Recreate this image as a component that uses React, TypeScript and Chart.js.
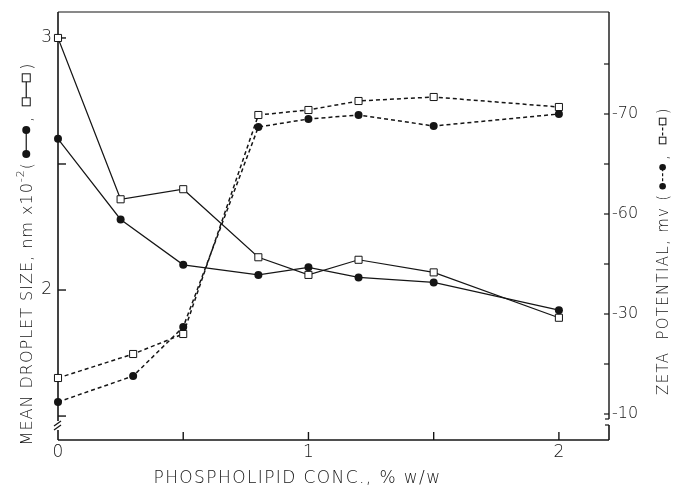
import React, { useEffect, useRef } from "react";
import { Chart, registerables } from "chart.js";

Chart.register(...registerables);

// ---- data ----
const concSize = [0, 0.25, 0.5, 0.8, 1.0, 1.2, 1.5, 2.0];
const sizeFilled = [2.6, 2.28, 2.1, 2.06, 2.09, 2.05, 2.03, 1.92];
const sizeOpen = [3.0, 2.36, 2.4, 2.13, 2.06, 2.12, 2.07, 1.89];

const concZeta = [0, 0.3, 0.5, 0.8, 1.0, 1.2, 1.5, 2.0];
const zetaFilled = [12.4, 17.6, 27.4, 67.4, 69.0, 69.8, 67.6, 70.0];
const zetaOpen = [17.2, 22.0, 26.0, 69.8, 70.8, 72.6, 73.4, 71.4];

const xTickValues = [0, 0.5, 1, 1.5, 2];
const xTickLabels = ["0", "", "1", "", "2"];
const leftTickValues = [1.5, 2, 2.5, 3];
const leftTickLabels = ["", "2", "", "3"];
const rightTickValues = [10, 20, 30, 40, 50, 60, 70, 80];
const rightTickLabels = ["-10", "", "-30", "", "-60", "", "-70", ""];

const xTitle = "PHOSPHOLIPID CONC., % w/w";
const leftTitle = "MEAN DROPLET SIZE, nm x10";
const leftTitleSup = "-2";
const rightTitle = "ZETA  POTENTIAL, mv";

const FONT = '"DejaVu Sans", sans-serif';
const INK = "#151515";

type Seg =
  | { kind: "text"; s: string }
  | { kind: "sup"; s: string }
  | { kind: "sym"; marker: "circle" | "square"; dashed: boolean };

function drawVerticalTitle(
  ctx: CanvasRenderingContext2D,
  x: number,
  y: number,
  size: number,
  ls: number,
  segs: Seg[],
  gap: number,
  r: number
) {
  ctx.save();
  ctx.translate(x, y);
  ctx.rotate(-Math.PI / 2);
  const main = `300 ${size}px ${FONT}`;
  const sup = `300 ${Math.round(size * 0.7)}px ${FONT}`;
  const widths = segs.map((seg) => {
    if (seg.kind === "sym") return 2 * r + gap + 8;
    ctx.font = seg.kind === "text" ? main : sup;
    (ctx as any).letterSpacing = `${ls}px`;
    return ctx.measureText(seg.s).width;
  });
  const total = widths.reduce((a, b) => a + b, 0);
  let cur = -total / 2;
  ctx.fillStyle = INK;
  ctx.strokeStyle = INK;
  ctx.textAlign = "left";
  ctx.textBaseline = "alphabetic";
  segs.forEach((seg, i) => {
    if (seg.kind === "text") {
      ctx.font = main;
      (ctx as any).letterSpacing = `${ls}px`;
      ctx.fillText(seg.s, cur, 0);
    } else if (seg.kind === "sup") {
      ctx.font = sup;
      (ctx as any).letterSpacing = `${ls}px`;
      ctx.fillText(seg.s, cur, -size * 0.5);
    } else {
      const my = -size * 0.36;
      const x1 = cur + 4 + r;
      const x2 = x1 + gap;
      ctx.lineWidth = 1.2;
      ctx.setLineDash(seg.dashed ? [3, 2] : []);
      ctx.beginPath();
      ctx.moveTo(x1, my);
      ctx.lineTo(x2, my);
      ctx.stroke();
      ctx.setLineDash([]);
      [x1, x2].forEach((px) => {
        if (seg.marker === "circle") {
          ctx.beginPath();
          ctx.arc(px, my, r, 0, Math.PI * 2);
          ctx.fill();
        } else {
          ctx.fillStyle = "#fff";
          ctx.fillRect(px - r, my - r, 2 * r, 2 * r);
          ctx.lineWidth = 1;
          ctx.strokeRect(px - r, my - r, 2 * r, 2 * r);
          ctx.fillStyle = INK;
        }
      });
    }
    cur += widths[i];
  });
  ctx.restore();
}

const framePlugin = {
  id: "frame",
  beforeDatasetsDraw(chart: any) {
    const { ctx, chartArea: a, scales } = chart;
    const L = a.left, R = a.right, T = a.top, B = a.bottom;
    ctx.save();
    ctx.strokeStyle = INK;
    ctx.lineCap = "butt";
    const seg = (x1: number, y1: number, x2: number, y2: number, w: number) => {
      ctx.lineWidth = w;
      ctx.beginPath();
      ctx.moveTo(x1, y1);
      ctx.lineTo(x2, y2);
      ctx.stroke();
    };
    // top and bottom
    seg(L, T, R, T, 1.2);
    seg(L, B, R, B, 1.6);
    // left axis with break
    seg(L, T, L, B - 19, 1.6);
    seg(L - 4, B - 14, L + 3, B - 19, 1.3);
    seg(L - 4, B - 10, L + 3, B - 15, 1.3);
    seg(L, B - 10, L, B, 1.6);
    // right axis with break
    seg(R, T, R, B - 21, 1.4);
    seg(R - 4, B - 21, R, B - 21, 1.2);
    seg(R, B - 15, R, B, 1.6);
    seg(R - 4, B - 15, R, B - 15, 1.2);
    // ticks (inward)
    xTickValues.forEach((v) => {
      if (v === 0) return;
      const px = scales.x.getPixelForValue(v);
      seg(px, B, px, B - 8, 1.4);
    });
    leftTickValues.forEach((v) => {
      const py = scales.y.getPixelForValue(v);
      seg(L, py, L + 8, py, 1.4);
    });
    rightTickValues.forEach((v) => {
      const py = scales.y2.getPixelForValue(v);
      seg(R, py, R - 5, py, 1.2);
    });
    ctx.restore();
  },
  afterDraw(chart: any) {
    const { ctx, chartArea: a } = chart;
    ctx.save();
    ctx.fillStyle = INK;
    ctx.font = `300 17px ${FONT}`;
    (ctx as any).letterSpacing = "1.4px";
    ctx.textAlign = "center";
    ctx.textBaseline = "alphabetic";
    ctx.fillText(xTitle, (a.left + a.right) / 2 - 36, a.bottom + 43);
    ctx.restore();

    drawVerticalTitle(
      ctx,
      32,
      (a.top + a.bottom) / 2 + 28,
      16,
      1,
      [
        { kind: "text", s: leftTitle },
        { kind: "sup", s: leftTitleSup },
        { kind: "text", s: "(" },
        { kind: "sym", marker: "circle", dashed: false },
        { kind: "text", s: ", " },
        { kind: "sym", marker: "square", dashed: false },
        { kind: "text", s: ")" },
      ],
      24,
      4
    );
    drawVerticalTitle(
      ctx,
      668,
      (a.top + a.bottom) / 2 + 25,
      15,
      1.3,
      [
        { kind: "text", s: rightTitle + " (" },
        { kind: "sym", marker: "circle", dashed: true },
        { kind: "text", s: ", " },
        { kind: "sym", marker: "square", dashed: true },
        { kind: "text", s: ")" },
      ],
      19,
      3.3
    );
  },
};

function pts(xs: number[], ys: number[]) {
  return xs.map((x, i) => ({ x, y: ys[i] }));
}

const noPad = (s: any) => {
  s.paddingTop = 0;
  s.paddingBottom = 0;
  s.paddingLeft = 0;
  s.paddingRight = 0;
};

export default function App() {
  const ref = useRef<HTMLCanvasElement | null>(null);

  useEffect(() => {
    if (!ref.current) return;
    const tickFont = { family: FONT, size: 17, weight: "300" as any };
    const common = {
      fill: false,
      tension: 0,
      borderColor: INK,
      pointBorderColor: INK,
      clip: false as any,
    };
    const chart = new Chart(ref.current, {
      type: "line",
      data: {
        datasets: [
          {
            ...common,
            label: "size filled",
            data: pts(concSize, sizeFilled),
            yAxisID: "y",
            borderWidth: 1.2,
            pointStyle: "circle",
            pointRadius: 4,
            pointBackgroundColor: INK,
            pointBorderWidth: 0,
          },
          {
            ...common,
            label: "size open",
            data: pts(concSize, sizeOpen),
            yAxisID: "y",
            borderWidth: 1.2,
            pointStyle: "rect",
            pointRadius: 5,
            pointBackgroundColor: "#fff",
            pointBorderWidth: 1,
          },
          {
            ...common,
            label: "zeta filled",
            data: pts(concZeta, zetaFilled),
            yAxisID: "y2",
            borderWidth: 1.5,
            borderDash: [4, 3],
            pointStyle: "circle",
            pointRadius: 4,
            pointBackgroundColor: INK,
            pointBorderWidth: 0,
          },
          {
            ...common,
            label: "zeta open",
            data: pts(concZeta, zetaOpen),
            yAxisID: "y2",
            borderWidth: 1.5,
            borderDash: [4, 3],
            pointStyle: "rect",
            pointRadius: 5,
            pointBackgroundColor: "#fff",
            pointBorderWidth: 1,
          },
        ],
      },
      options: {
        animation: false,
        responsive: false,
        maintainAspectRatio: false,
        layout: { padding: { top: 12, left: 0, right: 0, bottom: 0 } },
        plugins: {
          legend: { display: false },
          tooltip: { enabled: false },
          title: { display: false },
        },
        scales: {
          x: {
            type: "linear",
            position: "bottom",
            min: 0,
            max: 2.2,
            afterBuildTicks: (s: any) => {
              s.ticks = xTickValues.map((v) => ({ value: v }));
            },
            afterFit: (s: any) => {
              s.height = 50;
              noPad(s);
            },
            grid: { display: false, drawTicks: false },
            border: { display: false },
            ticks: {
              autoSkip: false,
              maxRotation: 0,
              padding: 2,
              color: INK,
              font: tickFont,
              callback: (_v: any, i: number) => xTickLabels[i],
            },
          },
          y: {
            type: "linear",
            position: "left",
            min: 1.405,
            max: 3.103,
            afterBuildTicks: (s: any) => {
              s.ticks = leftTickValues.map((v) => ({ value: v }));
            },
            afterFit: (s: any) => {
              s.width = 58;
              noPad(s);
            },
            grid: { display: false, drawTicks: false },
            border: { display: false },
            ticks: {
              autoSkip: false,
              padding: 6,
              color: INK,
              font: tickFont,
              callback: (_v: any, i: number) => leftTickLabels[i],
            },
          },
          y2: {
            type: "linear",
            position: "right",
            min: 4.8,
            max: 90.4,
            afterBuildTicks: (s: any) => {
              s.ticks = rightTickValues.map((v) => ({ value: v }));
            },
            afterFit: (s: any) => {
              s.width = 67;
              noPad(s);
            },
            grid: { display: false, drawTicks: false },
            border: { display: false },
            ticks: {
              autoSkip: false,
              padding: 3,
              color: INK,
              font: { ...tickFont, size: 16 },
              callback: (_v: any, i: number) => rightTickLabels[i],
            },
          },
        },
      } as any,
      plugins: [framePlugin],
    });
    return () => chart.destroy();
  }, []);

  return (
    <div
      style={{
        position: "fixed",
        left: 0,
        top: 0,
        width: 676,
        height: 490,
        background: "#fff",
      }}
    >
      <canvas ref={ref} width={676} height={490} />
    </div>
  );
}
